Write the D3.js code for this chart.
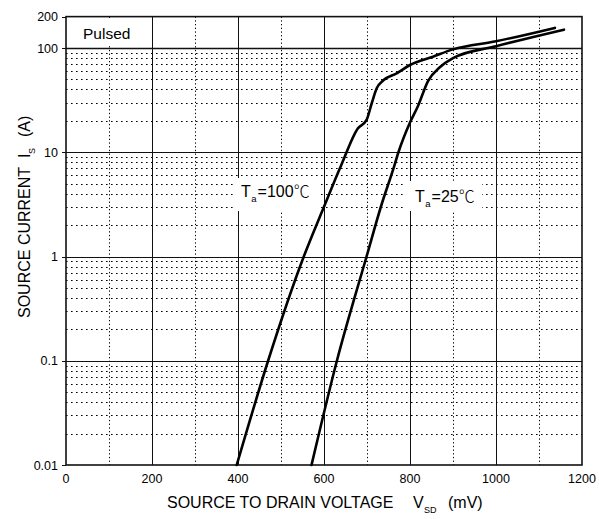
<!DOCTYPE html>
<html>
<head>
<meta charset="utf-8">
<script src="https://cdn.jsdelivr.net/npm/d3@7"></script>
<style>
  body { margin: 0; background: #fff; }
  svg { display: block; font-family: Arial, "Liberation Sans", sans-serif; }
</style>
</head>
<body>
<svg id="chart" width="599" height="519"></svg>
<script>
// tick values
const vMajor = [0, 200, 400, 600, 800, 1000, 1200];
const vMinor = [100, 300, 500, 700, 900, 1100];
const iMajor = [0.01, 0.1, 1, 10, 100, 200];
const iLabels = ['0.01', '0.1', '1', '10', '100', '200'];

// curves (mV, A)
const ta100V = [397, 470, 553, 600, 640, 679, 699, 711, 722.6, 738, 769, 800, 853.5, 900, 1000, 1137];
const ta100I = [0.01, 0.1, 1, 3.0, 7.5, 17, 20.4, 29.5, 41.1, 49, 57.2, 68.7, 82.5, 97, 116, 156];
const ta25V = [571, 630, 699, 735, 760.5, 773.3, 800, 818.6, 841.9, 870, 900, 1000, 1158];
const ta25I = [0.01, 0.1, 1, 3.26, 6.76, 10.06, 19.3, 27.8, 48.2, 65.7, 80, 104, 150];

const svg = d3.select('#chart');

const x = d3.scaleLinear().domain([0, 1200]).range([66, 582]);
const y = d3.scaleLog().domain([0.01, 100]).range([465, 48]);

const plotL = x(0), plotR = x(1200), plotT = y(200), plotB = y(0.01);
const crisp = v => Math.round(v) + 0.5;

// minor horizontal values: 2..9 in each decade below 100
const iMinor = [];
[0.01, 0.1, 1, 10].forEach(d => { for (let k = 2; k <= 9; k++) iMinor.push(+(d * k).toPrecision(3)); });

const grid = svg.append('g');

// dotted minor grid
grid.selectAll('line.hmin')
  .data(iMinor)
  .join('line')
  .attr('x1', plotL).attr('x2', plotR)
  .attr('y1', d => crisp(y(d))).attr('y2', d => crisp(y(d)))
  .attr('stroke', '#000').attr('stroke-width', 1)
  .attr('stroke-dasharray', '1.6,3.4');

grid.selectAll('line.vmin')
  .data(vMinor)
  .join('line')
  .attr('x1', d => crisp(x(d))).attr('x2', d => crisp(x(d)))
  .attr('y1', plotT).attr('y2', plotB)
  .attr('stroke', '#000').attr('stroke-width', 1)
  .attr('stroke-dasharray', '1.3,2.4');

// solid major grid
grid.selectAll('line.vmaj')
  .data(vMajor.slice(1, -1))
  .join('line')
  .attr('x1', d => crisp(x(d))).attr('x2', d => crisp(x(d)))
  .attr('y1', plotT).attr('y2', plotB)
  .attr('stroke', '#111').attr('stroke-width', 1);

grid.selectAll('line.hmaj')
  .data([0.1, 1, 10, 100])
  .join('line')
  .attr('x1', plotL).attr('x2', plotR)
  .attr('y1', d => crisp(y(d))).attr('y2', d => crisp(y(d)))
  .attr('stroke', '#111').attr('stroke-width', d => d === 100 ? 1.4 : 1);

// white boxes behind the labels
const boxes = [
  { x0: 80, y0: 19, x1: 136, y1: 44 },
  { x0: 233, y0: 178, x1: 318, y1: 211 },
  { x0: 406, y0: 181, x1: 482, y1: 211 }
];
svg.append('g').selectAll('rect')
  .data(boxes)
  .join('rect')
  .attr('x', d => d.x0).attr('y', d => d.y0)
  .attr('width', d => d.x1 - d.x0).attr('height', d => d.y1 - d.y0)
  .attr('fill', '#fff');

// frame
svg.append('rect')
  .attr('x', plotL).attr('y', plotT)
  .attr('width', plotR - plotL).attr('height', plotB - plotT)
  .attr('fill', 'none').attr('stroke', '#111').attr('stroke-width', 1.6);

// y ticks
svg.append('g').selectAll('line')
  .data(iMajor)
  .join('line')
  .attr('x1', plotL - 4).attr('x2', plotL)
  .attr('y1', d => crisp(y(d))).attr('y2', d => crisp(y(d)))
  .attr('stroke', '#111').attr('stroke-width', 1);

svg.append('g').selectAll('text')
  .data(iMajor)
  .join('text')
  .attr('x', 58).attr('y', d => y(d) + 4.5)
  .attr('text-anchor', 'end')
  .attr('font-size', 12.5)
  .text((d, i) => iLabels[i]);

svg.append('g').selectAll('text')
  .data(vMajor)
  .join('text')
  .attr('x', d => x(d)).attr('y', 483)
  .attr('text-anchor', 'middle')
  .attr('font-size', 12.5)
  .text(d => d);

// curves
const line = d3.line()
  .x(d => x(d[0]))
  .y(d => y(d[1]))
  .curve(d3.curveMonotoneX);

const curves = [
  d3.zip(ta100V, ta100I),
  d3.zip(ta25V, ta25I)
];
svg.append('g').selectAll('path')
  .data(curves)
  .join('path')
  .attr('d', line)
  .attr('fill', 'none')
  .attr('stroke', '#000')
  .attr('stroke-width', 2.6)
  .attr('stroke-linejoin', 'round')
  .attr('stroke-linecap', 'round');

// annotations
svg.append('text').attr('x', 83).attr('y', 38.5).attr('font-size', 15.5).text('Pulsed');

function tempLabel(px, py, val) {
  const t = svg.append('text').attr('x', px).attr('y', py).attr('font-size', 16);
  t.append('tspan').text('T');
  t.append('tspan').attr('font-size', 9.5).attr('dy', 5).attr('dx', 0.5).text('a');
  t.append('tspan').attr('dy', -5).attr('dx', 1).text('=' + val);
  t.append('tspan').attr('font-family', '"Noto Sans CJK SC", sans-serif').attr('font-weight', 300).text('℃');
}
tempLabel(241, 197, 100);
tempLabel(415, 201.5, 25);

// axis titles
svg.append('text').attr('x', 167).attr('y', 508).attr('font-size', 16)
  .text('SOURCE TO DRAIN VOLTAGE');
svg.append('text').attr('x', 413).attr('y', 508).attr('font-size', 16).text('V');
svg.append('text').attr('x', 424).attr('y', 513).attr('font-size', 9).text('SD');
svg.append('text').attr('x', 448).attr('y', 508).attr('font-size', 16).text('(mV)');

const yt = svg.append('g').attr('transform', 'translate(30,0) rotate(-90)');
yt.append('text').attr('x', -318).attr('y', 0).attr('font-size', 16).text('SOURCE CURRENT');
yt.append('text').attr('x', -158).attr('y', 0).attr('font-size', 16).text('I');
yt.append('text').attr('x', -154).attr('y', 5).attr('font-size', 9).text('S');
yt.append('text').attr('x', -137).attr('y', 0).attr('font-size', 16).text('(A)');
</script>
</body>
</html>
